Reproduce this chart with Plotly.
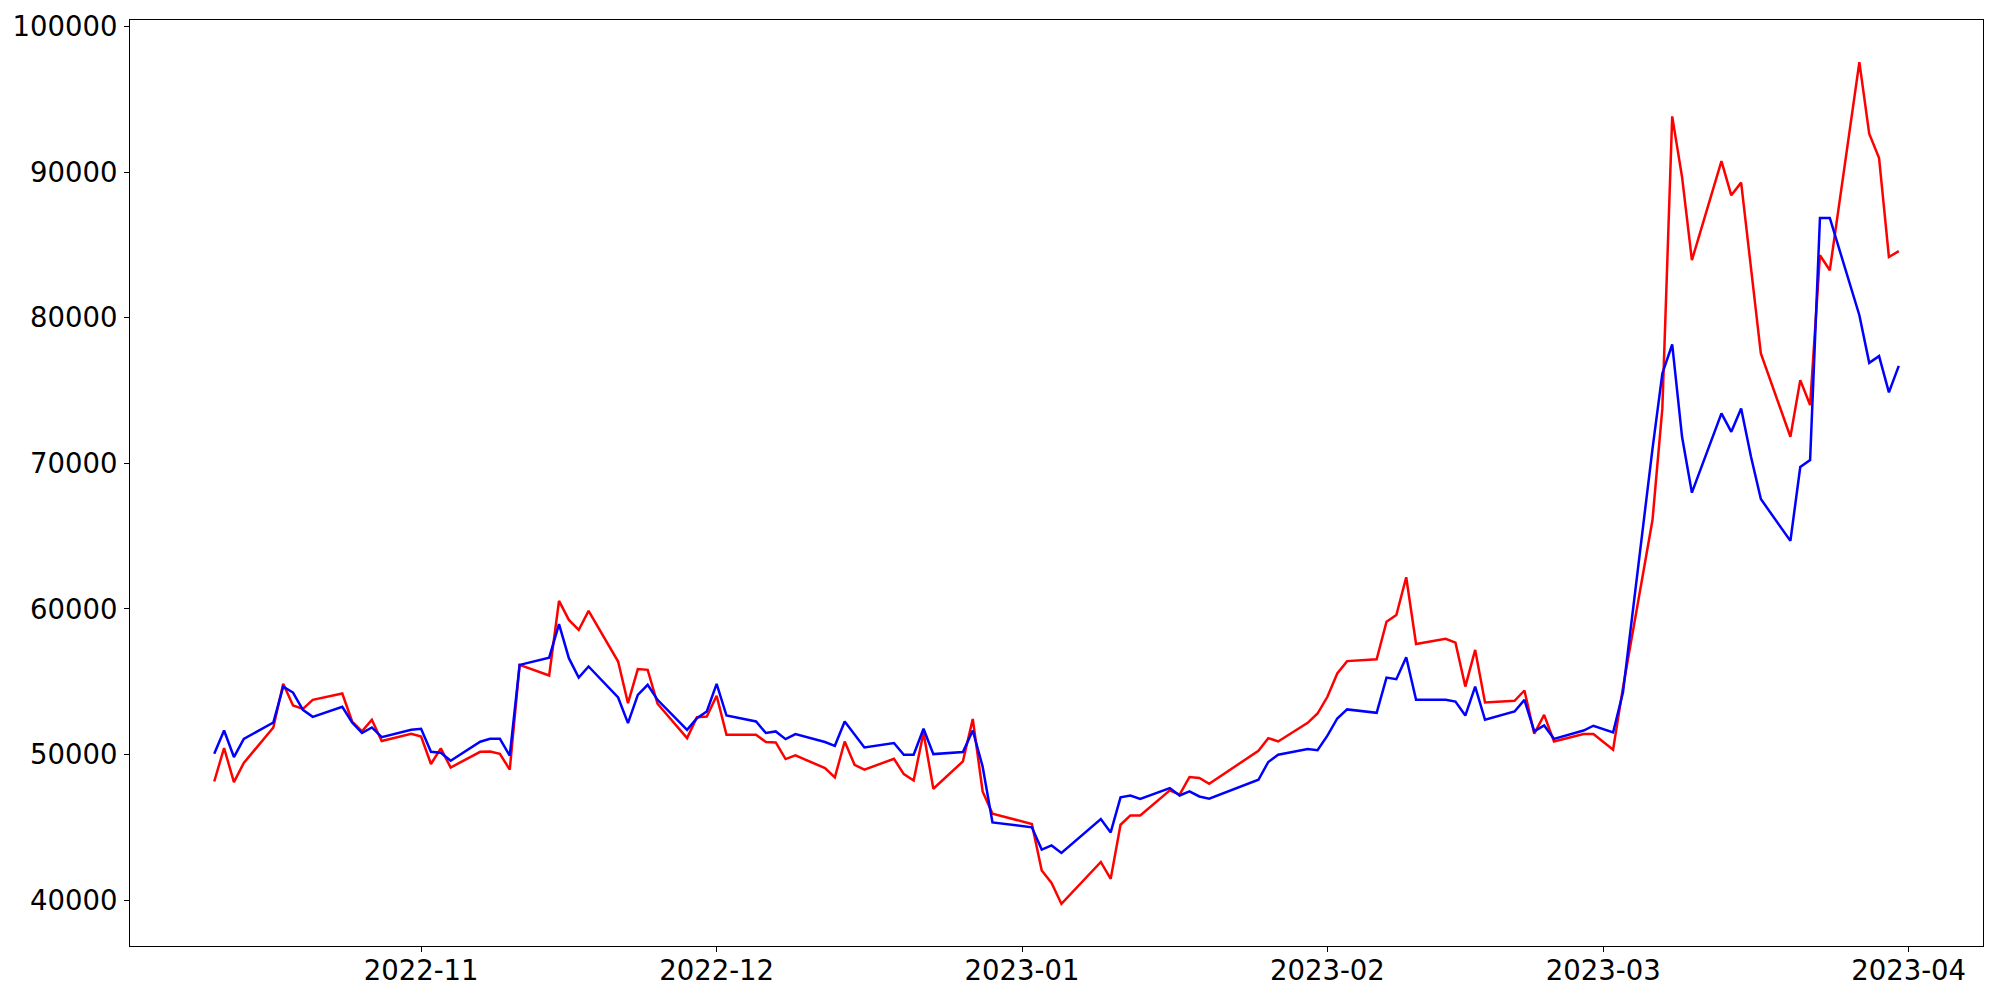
import numpy as np
import pandas as pd
import plotly.graph_objects as go

dates = [
    "2022-10-11", "2022-10-12", "2022-10-13", "2022-10-14",
    "2022-10-17", "2022-10-18", "2022-10-19", "2022-10-20", "2022-10-21",
    "2022-10-24", "2022-10-25", "2022-10-26", "2022-10-27", "2022-10-28",
    "2022-10-31", "2022-11-01", "2022-11-02", "2022-11-03", "2022-11-04",
    "2022-11-07", "2022-11-08", "2022-11-09", "2022-11-10", "2022-11-11",
    "2022-11-14", "2022-11-15", "2022-11-16", "2022-11-17", "2022-11-18",
    "2022-11-21", "2022-11-22", "2022-11-23", "2022-11-24", "2022-11-25",
    "2022-11-28", "2022-11-29", "2022-11-30", "2022-12-01", "2022-12-02",
    "2022-12-05", "2022-12-06", "2022-12-07", "2022-12-08", "2022-12-09",
    "2022-12-12", "2022-12-13", "2022-12-14", "2022-12-15", "2022-12-16",
    "2022-12-19", "2022-12-20", "2022-12-21", "2022-12-22", "2022-12-23",
    "2022-12-26", "2022-12-27", "2022-12-28", "2022-12-29",
    "2023-01-02", "2023-01-03", "2023-01-04", "2023-01-05",
    "2023-01-09", "2023-01-10", "2023-01-11", "2023-01-12", "2023-01-13",
    "2023-01-16", "2023-01-17", "2023-01-18", "2023-01-19", "2023-01-20",
    "2023-01-25", "2023-01-26", "2023-01-27",
    "2023-01-30", "2023-01-31", "2023-02-01", "2023-02-02", "2023-02-03",
    "2023-02-06", "2023-02-07", "2023-02-08", "2023-02-09", "2023-02-10",
    "2023-02-13", "2023-02-14", "2023-02-15", "2023-02-16", "2023-02-17",
    "2023-02-20", "2023-02-21", "2023-02-22", "2023-02-23", "2023-02-24",
    "2023-02-27", "2023-02-28", "2023-03-02", "2023-03-03",
    "2023-03-06", "2023-03-07", "2023-03-08", "2023-03-09", "2023-03-10",
    "2023-03-13", "2023-03-14", "2023-03-15", "2023-03-16", "2023-03-17",
    "2023-03-20", "2023-03-21", "2023-03-22", "2023-03-23", "2023-03-24",
    "2023-03-27", "2023-03-28", "2023-03-29", "2023-03-30", "2023-03-31",
]

red_values = [
    48150, 50450, 48110, 49420,
    51860, 54860, 53370, 53140, 53760,
    54190, 52270, 51590, 52390, 50930,
    51430, 51240, 49350, 50420, 49110,
    50190, 50210, 50050, 48960, 56160,
    55430, 60560, 59250, 58560, 59870,
    56390, 53530, 55870, 55820, 53490,
    51130, 52570, 52610, 54040, 51360,
    51360, 50860, 50830, 49690, 49940,
    49070, 48430, 50900, 49300, 48960,
    49710, 48660, 48220, 51500, 47650,
    49530, 52440, 47470, 45940,
    45230, 42040, 41180, 39740,
    42620, 41460, 45180, 45820, 45820,
    47540, 47240, 48460, 48390, 47990,
    50260, 51130, 50900,
    52180, 52820, 53970, 55570, 56420,
    56550, 59130, 59590, 62180, 57600,
    57950, 57690, 54670, 57190, 53580,
    53690, 54400, 51430, 52730, 50900,
    51410, 51410, 50330, 54580,
    66110, 73780, 93840, 89680, 83960,
    90770, 88420, 89290, 83320, 77550,
    71830, 75720, 74010, 84300, 83270,
    97570, 92650, 90980, 84180, 84580,
]

blue_values = [
    50050, 51650, 49830, 51080,
    52200, 54670, 54260, 53070, 52590,
    53280, 52200, 51480, 51860, 51200,
    51700, 51770, 50190, 50120, 49570,
    50880, 51080, 51080, 49920, 56160,
    56660, 58960, 56620, 55290, 56050,
    53920, 52160, 54100, 54790, 53760,
    51700, 52500, 52960, 54860, 52680,
    52270, 51480, 51590, 51060, 51410,
    50860, 50600, 52270, 51360, 50490,
    50790, 49990, 49990, 51770, 50030,
    50170, 51650, 49180, 45340,
    45000, 43470, 43760, 43240,
    45570, 44650, 47060, 47190, 46950,
    47700, 47190, 47470, 47120, 46970,
    48270, 49490, 49990,
    50380, 50300, 51300, 52480, 53100,
    52870, 55290, 55180, 56690, 53760,
    53760, 53640, 52680, 54670, 52390,
    52960, 53760, 51590, 52000, 51080,
    51650, 51980, 51520, 54260,
    71000, 76180, 78170, 71830, 67990,
    73440, 72170, 73780, 70460, 67550,
    64680, 69750, 70230, 86860, 86860,
    80180, 76910, 77370, 74880, 76700,
]

x = pd.to_datetime(dates)

# matplotlib-like 5% margins
all_y = np.array(red_values + blue_values, dtype=float)
y_span = all_y.max() - all_y.min()
y_range = [all_y.min() - 0.05 * y_span, all_y.max() + 0.05 * y_span]
x_span = x.max() - x.min()
x_range = [x.min() - 0.05 * x_span, x.max() + 0.05 * x_span]

fig = go.Figure()
fig.add_trace(go.Scatter(x=x, y=red_values, mode="lines",
                         line=dict(color="#ff0000", width=2.5), showlegend=False))
fig.add_trace(go.Scatter(x=x, y=blue_values, mode="lines",
                         line=dict(color="#0000ff", width=2.5), showlegend=False))

axis_common = dict(
    showgrid=False, zeroline=False, showline=True, linecolor="black",
    linewidth=1.1, mirror=True, ticks="outside", ticklen=5, tickwidth=1.1,
    tickcolor="black", automargin=False,
    tickfont=dict(family="DejaVu Sans", size=27.5, color="black"),
)

fig.update_xaxes(range=x_range, tickformat="%Y-%m", dtick="M1",
                 tick0="2022-10-01", ticklabelstandoff=-5, **axis_common)
fig.update_yaxes(range=y_range, tickvals=[40000, 50000, 60000, 70000, 80000, 90000, 100000],
                 tickformat="d", ticklabelstandoff=1, **axis_common)

# page body adds an 8px offset, so the figure is 1992x992 with adjusted margins
fig.update_layout(
    width=1992, height=992,
    margin=dict(l=122, r=17, t=12, b=54),
    plot_bgcolor="white", paper_bgcolor="white",
    font=dict(family="DejaVu Sans", color="black"),
)

fig.write_html("out.html")
